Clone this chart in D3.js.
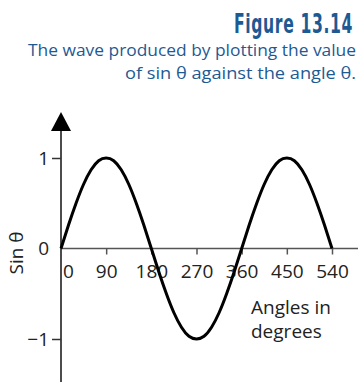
<!DOCTYPE html>
<html>
<head>
<meta charset="utf-8">
<script src="https://cdn.jsdelivr.net/npm/d3@7"></script>
<style>
  body { margin: 0; background: #fff; }
  svg { display: block; }
</style>
</head>
<body>
<script>
// values, every 15 degrees
let angles = [0, 15, 30, 45, 60, 75, 90, 105, 120, 135, 150, 165, 180,
    195, 210, 225, 240, 255, 270, 285, 300, 315, 330, 345, 360,
    375, 390, 405, 420, 435, 450, 465, 480, 495, 510, 525, 540];
let sinValues = [0, 0.26, 0.5, 0.71, 0.87, 0.97, 1, 0.97, 0.87, 0.71, 0.5, 0.26, 0,
    -0.26, -0.5, -0.71, -0.87, -0.97, -1, -0.97, -0.87, -0.71, -0.5, -0.26, 0,
    0.26, 0.5, 0.71, 0.87, 0.97, 1, 0.97, 0.87, 0.71, 0.5, 0.26, 0];
let xTicks = [0, 90, 180, 270, 360, 450, 540];
let yTicks = [-1, 0, 1];

function main() {
    let svg = d3.select("body").append("svg")
        .attr("width", 358)
        .attr("height", 382);

    let blue = "#1d5a93";
    let font = "'Open Sans', 'Noto Sans', sans-serif";

    // heading, squeezed sideways to look like the condensed face
    let titleG = svg.append("g");
    let title = titleG.append("text")
        .attr("x", 0)
        .attr("y", 0)
        .attr("text-anchor", "end")
        .style("font-family", "'DejaVu Sans', sans-serif")
        .style("font-weight", "bold")
        .style("font-size", "26px")
        .style("letter-spacing", "1px")
        .style("fill", blue)
        .text("Figure 13.14");
    let tw = title.node().getComputedTextLength();
    titleG.attr("transform", `translate(353,33) scale(${119 / tw},1)`);

    svg.append("text")
        .attr("x", 356)
        .attr("y", 56)
        .attr("text-anchor", "end")
        .attr("textLength", 328)
        .attr("lengthAdjust", "spacingAndGlyphs")
        .style("font-family", font)
        .style("font-size", "16px")
        .style("fill", blue)
        .text("The wave produced by plotting the value");

    svg.append("text")
        .attr("x", 356)
        .attr("y", 79)
        .attr("text-anchor", "end")
        .attr("textLength", 231)
        .attr("lengthAdjust", "spacingAndGlyphs")
        .style("font-family", font)
        .style("font-size", "16px")
        .style("fill", blue)
        .text("of sin θ against the angle θ.");

    let xScale = d3.scaleLinear().domain([0, 540]).range([61, 332]);
    let yScale = d3.scaleLinear().domain([-1, 1]).range([339, 158]);

    // axis lines
    svg.append("line")
        .attr("x1", xScale(0)).attr("x2", 358)
        .attr("y1", yScale(0)).attr("y2", yScale(0))
        .attr("stroke", "#555").attr("stroke-width", 1.5);

    svg.append("line")
        .attr("x1", xScale(0)).attr("x2", xScale(0))
        .attr("y1", 125).attr("y2", 382)
        .attr("stroke", "#111").attr("stroke-width", 1.5);

    let ax = xScale(0);
    svg.append("path")
        .attr("d", `M${ax},112 L${ax - 10},131 L${ax + 10},131 Z`)
        .attr("fill", "#000");

    // x axis ticks + labels
    let xAxis = d3.axisBottom(xScale).tickValues(xTicks).tickSize(6).tickFormat(d => d);
    let gx = svg.append("g")
        .attr("transform", `translate(0,${yScale(0)})`)
        .call(xAxis);
    gx.select(".domain").remove();
    gx.selectAll(".tick line").attr("stroke", "#555").attr("stroke-width", 1.5)
        .filter(d => d === 0).remove();
    gx.selectAll(".tick text")
        .attr("y", 29).attr("dy", null)
        .attr("dx", d => d === 0 ? 7 : 0)
        .style("font-family", font).style("font-size", "19px").style("fill", "#222");

    // y axis ticks + labels
    let yAxis = d3.axisLeft(yScale).tickValues(yTicks).tickSize(9).tickPadding(3).tickFormat(d3.format("d"));
    let gy = svg.append("g")
        .attr("transform", `translate(${xScale(0)},0)`)
        .call(yAxis);
    gy.select(".domain").remove();
    gy.selectAll(".tick line").attr("stroke", "#333").attr("stroke-width", 1.5)
        .filter(d => d === 0).remove();
    gy.selectAll(".tick text")
        .style("font-family", font).style("font-size", "19px").style("fill", "#222");

    svg.append("text")
        .attr("transform", "translate(23,253) rotate(-90)")
        .attr("text-anchor", "middle")
        .style("font-family", font).style("font-size", "19px").style("fill", "#222")
        .text("Sin θ");

    let xLabel = svg.append("text")
        .style("font-family", font).style("font-size", "19px").style("fill", "#222");
    xLabel.append("tspan").attr("x", 251).attr("y", 314).text("Angles in");
    xLabel.append("tspan").attr("x", 251).attr("y", 338).text("degrees");

    // the wave
    let line = d3.line()
        .x((d, i) => xScale(angles[i]))
        .y(d => yScale(d))
        .curve(d3.curveNatural);

    svg.append("path")
        .datum(sinValues)
        .attr("d", line)
        .attr("fill", "none")
        .attr("stroke", "#000")
        .attr("stroke-width", 3);
}

main()
</script>
</body>
</html>
